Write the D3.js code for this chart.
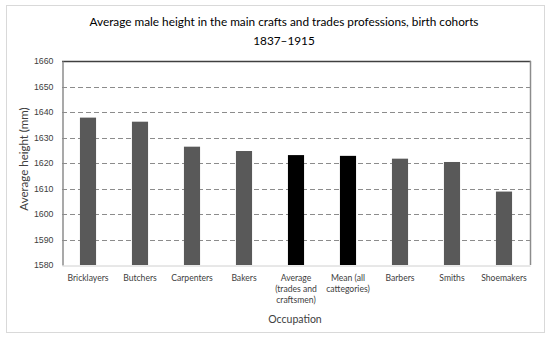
<!DOCTYPE html>
<html lang="en">
<head>
  <meta charset="UTF-8">
  <title>Average male height by occupation</title>
  <style>
    body { margin: 0; background: #fff; font-family: Lato, "Open Sans", sans-serif; }
    .grid line { stroke: #8c8c8c; stroke-width: 1px; stroke-dasharray: 5,3; }
    .tick text { font-size: 8.8px; fill: #404040; }
  </style>
</head>
<body>
  <svg width="550" height="343"></svg>

  <script src="https://d3js.org/d3.v7.min.js"></script>
  <script>
    // data
    const occupations = ["Bricklayers", "Butchers", "Carpenters", "Bakers",
      "Average (trades and craftsmen)", "Mean (all cattegories)", "Barbers", "Smiths", "Shoemakers"];
    const labelLines = [["Bricklayers"], ["Butchers"], ["Carpenters"], ["Bakers"],
      ["Average", "(trades and", "craftsmen)"], ["Mean (all", "cattegories)"], ["Barbers"], ["Smiths"], ["Shoemakers"]];
    const heights = [1637.8, 1636.2, 1626.4, 1624.7, 1623.1, 1622.8, 1621.7, 1620.4, 1608.8];
    const highlighted = ["Average (trades and craftsmen)", "Mean (all cattegories)"];
    const yTicks = [1580, 1590, 1600, 1610, 1620, 1630, 1640, 1650, 1660];

    const svg = d3.select("svg");
    const m = { left: 62, right: 530, top: 61, bottom: 265 };

    // outer frame
    svg.append("rect")
      .attr("x", 6.5).attr("y", 5.5).attr("width", 538).attr("height", 327)
      .attr("fill", "none").attr("stroke", "#d9d9d9");

    const x = d3.scaleBand().domain(occupations).range([m.left, m.right]).paddingInner(0.69).paddingOuter(0.345);
    const y = d3.scaleLinear().domain([1580, 1660]).range([m.bottom, m.top]);

    // dashed gridlines
    svg.append("g").attr("class", "grid")
      .selectAll("line").data(yTicks.slice(1, -1)).join("line")
      .attr("x1", m.left).attr("x2", m.right)
      .attr("y1", d => Math.round(y(d)) + 0.5).attr("y2", d => Math.round(y(d)) + 0.5);

    // bars
    svg.append("g").selectAll("rect").data(occupations).join("rect")
      .attr("x", d => x(d))
      .attr("width", x.bandwidth())
      .attr("y", (d, i) => y(heights[i]))
      .attr("height", (d, i) => y(1580) - y(heights[i]))
      .attr("fill", d => highlighted.includes(d) ? "#000" : "#595959");

    // plot frame: top dark, sides gray
    svg.append("line").attr("x1", m.left).attr("x2", m.right + 1).attr("y1", m.top + 0.5).attr("y2", m.top + 0.5)
      .attr("stroke", "#404040").attr("stroke-width", 1.5);
    svg.append("line").attr("x1", m.right + 0.5).attr("x2", m.right + 0.5).attr("y1", m.top).attr("y2", m.bottom)
      .attr("stroke", "#8c8c8c").attr("stroke-width", 1.5);

    // y axis
    const yAxis = svg.append("g").attr("transform", `translate(${m.left + 0.5},0)`)
      .call(d3.axisLeft(y).tickValues(yTicks).tickSize(0).tickPadding(9).tickFormat(d3.format("d")));
    yAxis.select(".domain").attr("stroke", "#8c8c8c").attr("stroke-width", 1.5);

    // x axis
    const xAxis = svg.append("g").attr("transform", `translate(0,${m.bottom + 0.5})`)
      .call(d3.axisBottom(x).tickSize(0).tickFormat(""));
    xAxis.select(".domain").attr("stroke", "#d0d0d0");

    svg.append("g").selectAll("text").data(occupations).join("text")
      .attr("x", d => x(d) + x.bandwidth() / 2)
      .attr("y", 281)
      .attr("text-anchor", "middle")
      .attr("font-size", "8.6px").attr("fill", "#404040")
      .selectAll("tspan").data((d, i) => labelLines[i]).join("tspan")
      .attr("x", function () { return this.parentNode.getAttribute("x"); })
      .attr("dy", (d, i) => i === 0 ? 0 : "1.25em")
      .text(d => d);

    // titles
    svg.append("text").attr("x", 284).attr("y", 26).attr("text-anchor", "middle")
      .attr("font-size", "11.8px").attr("fill", "#000")
      .text("Average male height in the main crafts and trades professions, birth cohorts");
    svg.append("text").attr("x", 284).attr("y", 45).attr("text-anchor", "middle")
      .attr("font-size", "11.8px").attr("fill", "#000").text("1837–1915");

    svg.append("text").attr("x", 295).attr("y", 323).attr("text-anchor", "middle")
      .attr("font-size", "10.5px").attr("fill", "#404040").text("Occupation");

    svg.append("text").attr("transform", "translate(28,159) rotate(-90)").attr("text-anchor", "middle")
      .attr("font-size", "11.5px").attr("fill", "#404040").text("Average height (mm)");
  </script>
</body>
</html>
